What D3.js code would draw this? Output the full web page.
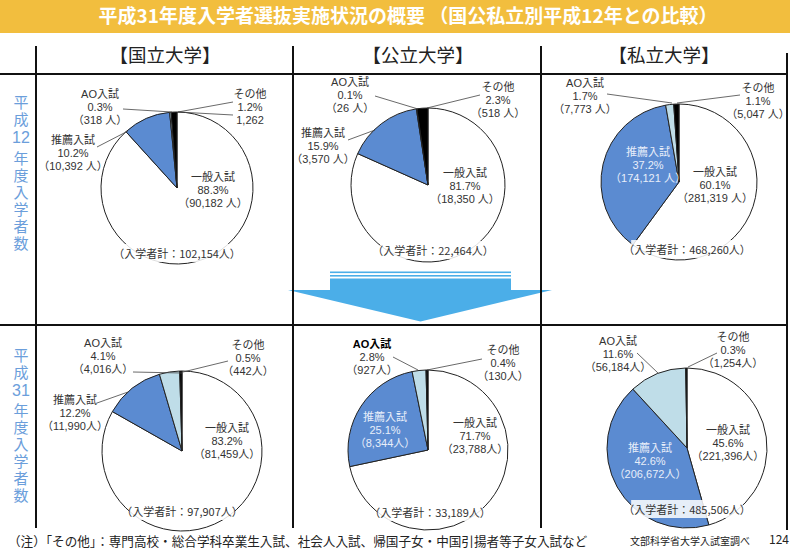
<!DOCTYPE html>
<html><head><meta charset="utf-8">
<script src="https://cdn.jsdelivr.net/npm/d3@7"></script>
<style>
html,body{margin:0;padding:0;background:#fff;}
svg{display:block;font-family:"Noto Sans CJK JP","Noto Sans",sans-serif;}
.lbl{font-family:"Liberation Sans","Noto Sans CJK JP",sans-serif;}
</style></head>
<body>
<svg id="c" width="800" height="557"></svg>
<script>
// ---------- data ----------
const title = "平成31年度入学者選抜実施状況の概要 （国公私立別平成12年との比較）";
const universities = ["【国立大学】", "【公立大学】", "【私立大学】"];
const categories = ["一般入試", "推薦入試", "AO入試", "その他"];
const yearLabels = [["平","成","12","年","度","入","学","者","数"], ["平","成","31","年","度","入","学","者","数"]];

const countsH12 = [[90182, 10392, 318, 1262], [18350, 3570, 26, 518], [281319, 174121, 7773, 5047]];
const pctH12    = [[88.3, 10.2, 0.3, 1.2], [81.7, 15.9, 0.1, 2.3], [60.1, 37.2, 1.7, 1.1]];
const totalsH12 = [102154, 22464, 468260];

const countsH31 = [[81459, 11990, 4016, 442], [23788, 8344, 927, 130], [221396, 206672, 56184, 1254]];
const pctH31    = [[83.2, 12.2, 4.1, 0.5], [71.7, 25.1, 2.8, 0.4], [45.6, 42.6, 11.6, 0.3]];
const totalsH31 = [97907, 33189, 485506];

const note = "（注）「その他」：専門高校・総合学科卒業生入試、社会人入試、帰国子女・中国引揚者等子女入試など";
const source = "文部科学省大学入試室調べ";
const pageNo = "124";

// ---------- layout ----------
const colors = ["#ffffff", "#5b8bd1", "#bfdde8", "#000000"];
const rowY = [74, 325];
const centers = [
  [[177, 188, 76], [428, 185, 77], [679, 182, 78]],
  [[182, 451, 80], [428, 450, 80], [687, 448, 80]]
];
// label offsets [dx, dy of first line] per pie, order: 一般, 推薦, AO, その他
const labelPos = [
  [ [[36,-11],[-104,-48],[-77,-94],[73,-94]],
    [[37,-12],[-105,-52],[-78,-103],[70,-98]],
    [[36,-10],[-31,-30],[-94,-99],[79,-94]] ],
  [ [[45,-23],[-107,-51],[-79,-108],[66,-106]],
    [[47,-27],[-43,-33],[-56,-106],[75,-100]],
    [[41,-18],[-37,0],[-69,-107],[46,-111]] ]
];
// leader lines [x1,y1,x2,y2] relative to pie center
const leaders = [
  [ [[-80,-41,-49,-57],[-54,-79,-5,-76],[56,-86,1,-76],[56,-73,1,-76]],
    [[-80,-45,-53,-55],[-53,-89,-10,-76],[52,-90,-1,-77]],
    [[-72,-88,-7,-79],[61,-87,-2,-79]] ],
  [ [[-85,-48,-54,-59],[-49,-79,0,-78],[46,-90,1,-79]],
    [[-35,-93,-10,-80],[54,-91,-1,-80]],
    [[-50,-95,-29,-75],[30,-95,1,-81]] ]
];
const totalPos = [[[0,66],[5,66],[8,68]], [[0,61],[2,63],[0,62]]];

const svg = d3.select("#c");
const fmt = d3.format(",");
const fontSize = 11;

// title bar
svg.append("rect").attr("x", 0).attr("y", 0).attr("width", 790).attr("height", 33).attr("fill", "#f2be3e");
svg.append("text").attr("x", 408).attr("y", 23).attr("text-anchor", "middle")
  .attr("fill", "#fff").attr("font-weight", "bold").attr("font-size", 19).text(title);

// headers
const headerX = [165, 418, 664];
universities.forEach((u, i) => {
  svg.append("text").attr("x", headerX[i]).attr("y", 62).attr("text-anchor", "middle")
    .attr("font-size", 18.5).attr("fill", "#222").text(u);
});

// row labels (vertical) - stacked tspans
const rowCharY = [[102,119,137,158,175,192,209,226,243],[355,372,390,410,427,444,461,478,495]];
yearLabels.forEach((chars, r) => {
  const t = svg.append("text").attr("class", "lbl").attr("text-anchor", "middle")
    .attr("font-size", 15).attr("fill", "#6b9edb");
  chars.forEach((ch, k) => {
    t.append("tspan").attr("x", 21).attr("y", rowCharY[r][k] + 6)
      .attr("font-size", ch.length > 1 ? 16 : null).text(ch);
  });
});

// arrow
const ag = svg.append("g").attr("fill", "#4baee8");
ag.append("rect").attr("x", 330).attr("y", 271.5).attr("width", 181).attr("height", 1.6);
ag.append("rect").attr("x", 330).attr("y", 275).attr("width", 181).attr("height", 1.6);
ag.append("rect").attr("x", 330).attr("y", 278.5).attr("width", 181).attr("height", 12);
ag.append("polygon").attr("points", [[288,290],[552,290],[420.5,321.5]].map(p => p.join(",")).join(" "));

// pies
const pie = d3.pie().sort(null).value(d => d);
const rows = [
  {counts: countsH12, pct: pctH12, totals: totalsH12, sp: " 人"},
  {counts: countsH31, pct: pctH31, totals: totalsH31, sp: "人"}
];

rows.forEach((row, r) => {
  row.counts.forEach((vals, c) => {
    const [cx, cy, rad] = centers[r][c];
    const g = svg.append("g").attr("transform", `translate(${cx},${cy})`);
    const arc = d3.arc().innerRadius(0).outerRadius(rad);
    g.selectAll("path").data(pie(vals)).join("path")
      .attr("d", arc).attr("fill", (d, i) => colors[i])
      .attr("stroke", "#222").attr("stroke-width", 1);

    leaders[r][c].forEach(l => {
      g.append("line").attr("x1", l[0]).attr("y1", l[1]).attr("x2", l[2]).attr("y2", l[3])
        .attr("stroke", "#444").attr("stroke-width", 0.8);
    });

    categories.forEach((cat, i) => {
      const [dx, dy] = labelPos[r][c][i];
      const inside = (i === 1) && (dx > -60);
      let cnt = "（" + fmt(vals[i]) + row.sp + "）";
      if (r === 0 && c === 0 && i === 3) cnt = fmt(vals[i]);
      const lines = [cat, row.pct[c][i].toFixed(1) + "%", cnt];
      const boldAO = (r === 1 && c === 1 && i === 2);
      const t = g.append("text").attr("class", "lbl").attr("text-anchor", "middle").attr("font-size", fontSize)
        .attr("fill", inside ? "#e8eefa" : "#333");
      lines.forEach((ln, k) => {
        t.append("tspan").attr("x", dx).attr("y", dy + 4 + k * 13)
          .attr("font-weight", (boldAO && k === 0) ? "bold" : null)
          .attr("fill", (boldAO && k === 0) ? "#000" : null)
          .text(ln);
      });
    });

    const [tx, ty] = totalPos[r][c];
    const tt = "（入学者計：" + fmt(row.totals[c]) + "人）";
    const bg = g.append("rect").attr("fill", "#fff").attr("opacity", 0.85);
    const tn = g.append("text").attr("x", tx).attr("y", ty + 4).attr("text-anchor", "middle")
      .attr("font-size", fontSize).attr("fill", "#333").text(tt);
    const bb = tn.node().getBBox();
    bg.attr("x", bb.x + 8).attr("y", bb.y - 1).attr("width", bb.width - 16).attr("height", bb.height + 2);
  });
});

// grid lines
const lg = svg.append("g").attr("stroke", "#111").attr("stroke-width", 2);
rowY.forEach(y => lg.append("line").attr("x1", 0).attr("x2", 787).attr("y1", y).attr("y2", y));
[36, 293, 541].forEach(x => lg.append("line").attr("x1", x).attr("x2", x).attr("y1", 46).attr("y2", 528));
lg.append("line").attr("x1", 787).attr("x2", 787).attr("y1", 53).attr("y2", 530);

// footer
svg.append("text").attr("x", 8).attr("y", 546).attr("font-size", 12.6).attr("fill", "#222").text(note);
svg.append("text").attr("x", 630).attr("y", 545).attr("font-size", 10).attr("fill", "#222").text(source);
svg.append("text").attr("x", 769).attr("y", 544).attr("font-size", 12).attr("fill", "#222").text(pageNo);
</script>
</body></html>
